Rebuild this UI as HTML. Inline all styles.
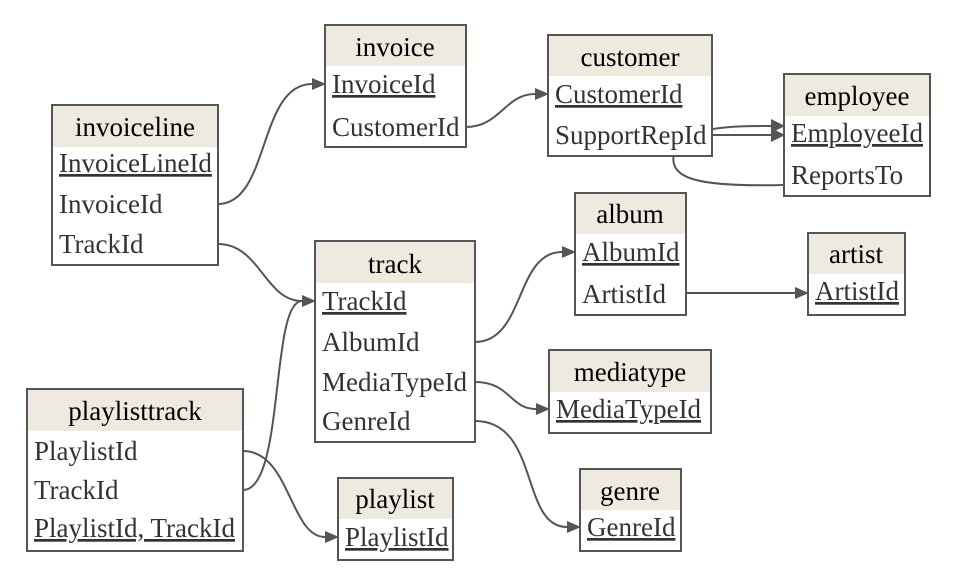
<!DOCTYPE html>
<html><head><meta charset="utf-8"><style>
html,body{margin:0;padding:0;background:#fff;}
svg{display:block}
text{font-family:"Liberation Serif",serif;font-size:27px;}
.t{fill:#000;text-anchor:middle}
.f{fill:#333}
.k{fill:#333;text-decoration:underline}
.b{fill:#fff;stroke:#555;stroke-width:2}
.h{fill:#eeeae0}
.e{fill:none;stroke:#555;stroke-width:2}
.a{fill:#555}
</style></head><body>
<svg width="954" height="584" viewBox="0 0 954 584">
<path class="e" d="M218,204 C270,204 258,84 312,84"/><path class="a" d="M312,78 L326,84 L312,90Z"/>
<path class="e" d="M466,127 C500,127 505,94 535,94"/><path class="a" d="M535,88 L549,94 L535,100Z"/>
<path class="e" d="M712,135 L771,135"/><path class="a" d="M771,128 L785,135 L771,142Z"/>
<path class="e" d="M784,185 C700,187 665,180 675,150 C685,125 740,126 771,126"/><path class="a" d="M771,119 L785,126 L771,133Z"/>
<path class="e" d="M218,244 C260,244 265,301 302,301"/><path class="a" d="M302,295 L316,301 L302,307Z"/>
<path class="e" d="M243,490 C285,490 270,301 302,301"/>
<path class="e" d="M243,451 C290,451 290,537 325,537"/><path class="a" d="M325,531 L339,537 L325,543Z"/>
<path class="e" d="M475,342 C525,342 515,252 562,252"/><path class="a" d="M562,246 L576,252 L562,258Z"/>
<path class="e" d="M686,293 L795,293"/><path class="a" d="M795,287 L809,293 L795,299Z"/>
<path class="e" d="M475,382 C510,382 510,409 536,409"/><path class="a" d="M536,403 L550,409 L536,415Z"/>
<path class="e" d="M475,421 C540,421 520,527 567,527"/><path class="a" d="M567,521 L581,527 L567,533Z"/>

<rect class="b" x="52" y="105" width="166" height="160"/><rect class="h" x="53" y="106" width="164" height="41"/>
<text class="t" x="135" y="136">invoiceline</text>
<text class="k" x="59" y="172">InvoiceLineId</text><text class="f" x="59" y="213">InvoiceId</text><text class="f" x="59" y="253">TrackId</text>
<rect class="b" x="325" y="25" width="141" height="122"/><rect class="h" x="326" y="26" width="139" height="40"/>
<text class="t" x="395" y="56">invoice</text>
<text class="k" x="332" y="93">InvoiceId</text><text class="f" x="332" y="136">CustomerId</text>
<rect class="b" x="548" y="35" width="164" height="121"/><rect class="h" x="549" y="36" width="162" height="40"/>
<text class="t" x="630" y="66">customer</text>
<text class="k" x="555" y="103">CustomerId</text><text class="f" x="555" y="144">SupportRepId</text>
<rect class="b" x="784" y="74" width="146" height="122"/><rect class="h" x="785" y="75" width="144" height="41"/>
<text class="t" x="857" y="105">employee</text>
<text class="k" x="791" y="142">EmployeeId</text><text class="f" x="791" y="184">ReportsTo</text>
<rect class="b" x="575" y="193" width="111" height="122"/><rect class="h" x="576" y="194" width="109" height="40"/>
<text class="t" x="630" y="223">album</text>
<text class="k" x="582" y="261">AlbumId</text><text class="f" x="582" y="303">ArtistId</text>
<rect class="b" x="808" y="233" width="97" height="82"/><rect class="h" x="809" y="234" width="95" height="40"/>
<text class="t" x="856" y="263">artist</text>
<text class="k" x="815" y="300">ArtistId</text>
<rect class="b" x="315" y="241" width="160" height="201"/><rect class="h" x="316" y="242" width="158" height="41"/>
<text class="t" x="395" y="273">track</text>
<text class="k" x="322" y="310">TrackId</text><text class="f" x="322" y="351">AlbumId</text><text class="f" x="322" y="391">MediaTypeId</text><text class="f" x="322" y="430">GenreId</text>
<rect class="b" x="549" y="350" width="162" height="83"/><rect class="h" x="550" y="351" width="160" height="41"/>
<text class="t" x="630" y="381">mediatype</text>
<text class="k" x="556" y="418">MediaTypeId</text>
<rect class="b" x="580" y="469" width="101" height="82"/><rect class="h" x="581" y="470" width="99" height="40"/>
<text class="t" x="630" y="500">genre</text>
<text class="k" x="587" y="536">GenreId</text>
<rect class="b" x="27" y="389" width="216" height="162"/><rect class="h" x="28" y="390" width="214" height="41"/>
<text class="t" x="135" y="420">playlisttrack</text>
<text class="f" x="34" y="460">PlaylistId</text><text class="f" x="34" y="499">TrackId</text><text class="k" x="34" y="537">PlaylistId, TrackId</text>
<rect class="b" x="338" y="478" width="115" height="82"/><rect class="h" x="339" y="479" width="113" height="40"/>
<text class="t" x="395" y="508">playlist</text>
<text class="k" x="345" y="546">PlaylistId</text>
</svg>
</body></html>
